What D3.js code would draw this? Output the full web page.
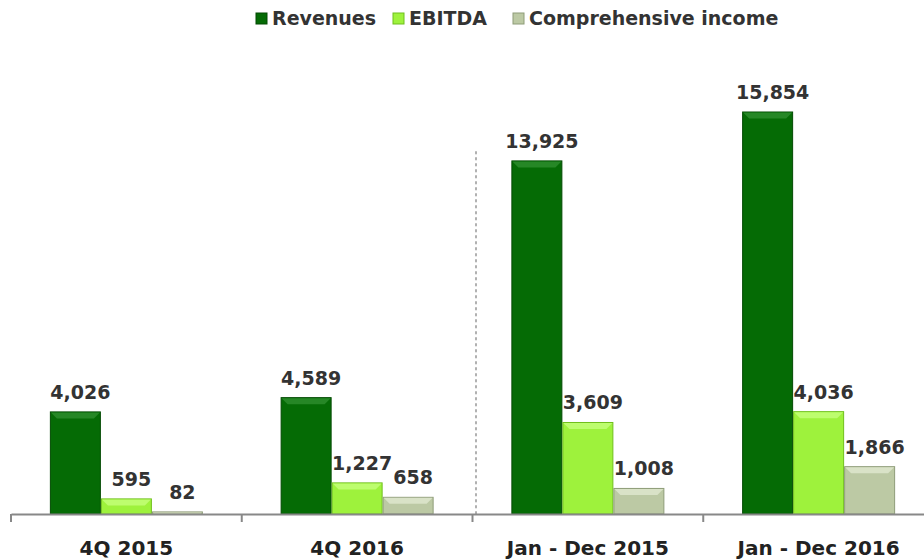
<!DOCTYPE html>
<html>
<head>
<meta charset="utf-8">
<script src="https://cdn.jsdelivr.net/npm/d3@7"></script>
<style>
  body { margin: 0; background: #fff; }
  text { font-family: "DejaVu Sans", Verdana, sans-serif; font-weight: bold; }
</style>
</head>
<body>
<div id="chart"></div>
<script>
// chart data
const categories = ["4Q 2015", "4Q 2016", "Jan - Dec 2015", "Jan - Dec 2016"];
const seriesNames = ["Revenues", "EBITDA", "Comprehensive income"];
const revenues = [4026, 4589, 13925, 15854];
const ebitda = [595, 1227, 3609, 4036];
const income = [82, 658, 1008, 1866];

const W = 924, H = 559;
const colors = ["#056b05", "#9ef23c", "#bcc9a4"];
const edges = ["#034a03", "#6fbf1c", "#8e9c78"];
const lights = ["#2e8f2e", "#c4ff7a", "#e0e8cf"];

const svg = d3.select("#chart").append("svg")
    .attr("width", W)
    .attr("height", H);

const baseY = 514;
const x = d3.scaleBand().domain(categories).range([11, 934]);
const inner = d3.scaleBand().domain(seriesNames).range([0, 153]);
const y = d3.scaleLinear().domain([0, 15854]).range([baseY, 112]);

const rows = categories.map((c, i) => ({
  cat: c,
  vals: [revenues[i], ebitda[i], income[i]]
}));

// dotted separator between quarterly and annual
svg.append("line")
    .attr("x1", 476).attr("x2", 476)
    .attr("y1", 152).attr("y2", baseY)
    .attr("stroke", "#b0b0b0")
    .attr("stroke-width", 2)
    .attr("stroke-dasharray", "1.5,4.5")
    .attr("stroke-linecap", "round");

const groups = svg.selectAll(".grp")
    .data(rows)
  .enter().append("g")
    .attr("class", "grp")
    .attr("transform", d => "translate(" + (x(d.cat) + (x.bandwidth() - 153) / 2) + ",0)");

groups.each(function(d) {
  const g = d3.select(this);
  d.vals.forEach((v, k) => {
    const bx = inner(seriesNames[k]), bw = inner.bandwidth();
    const top = y(v), h = baseY - top;
    g.append("rect")
        .attr("x", bx + 0.5).attr("y", top)
        .attr("width", bw - 1).attr("height", h)
        .attr("fill", colors[k])
        .attr("stroke", edges[k])
        .attr("stroke-width", 1);
    // bevel highlight on top
    const bev = Math.min(6, h / 2);
    g.append("path")
        .attr("d", "M" + (bx + 1) + "," + (top + 0.5) + "h" + (bw - 2) +
          "l-" + bev + "," + bev + "h-" + (bw - 2 - 2 * bev) + "z")
        .attr("fill", lights[k])
        .attr("opacity", 0.8);
    g.append("text")
        .attr("x", bx + bw / 2 + 5)
        .attr("y", top - 13)
        .attr("text-anchor", "middle")
        .attr("font-size", 19)
        .attr("fill", "#333")
        .text(d3.format(",")(v));
  });
});

// x axis
const xAxis = d3.axisBottom(x).tickSize(0).tickSizeOuter(0);
const ax = svg.append("g")
    .attr("transform", "translate(0," + baseY + ")")
    .call(xAxis);
ax.select(".domain").attr("stroke", "#888").attr("stroke-width", 2);
ax.selectAll("text")
    .attr("font-size", 20)
    .attr("fill", "#222")
    .attr("dy", 0)
    .attr("y", 41)
    .style("font-family", "DejaVu Sans, sans-serif")
    .style("font-weight", "bold");
// category boundary ticks
svg.selectAll(".sep")
    .data(categories)
  .enter().append("line")
    .attr("x1", d => x(d)).attr("x2", d => x(d))
    .attr("y1", baseY).attr("y2", baseY + 8)
    .attr("stroke", "#888")
    .attr("stroke-width", 2);

// legend
const legX = [256, 393, 513];
const leg = svg.selectAll(".leg")
    .data(seriesNames)
  .enter().append("g")
    .attr("transform", (d, i) => "translate(" + legX[i] + ",0)");
leg.append("rect")
    .attr("x", 0).attr("y", 13)
    .attr("width", 11).attr("height", 11)
    .attr("fill", (d, i) => colors[i])
    .attr("stroke", (d, i) => edges[i]);
leg.append("text")
    .attr("x", 16).attr("y", 25)
    .attr("font-size", 19)
    .attr("fill", "#333")
    .text(d => d);
</script>
</body>
</html>
